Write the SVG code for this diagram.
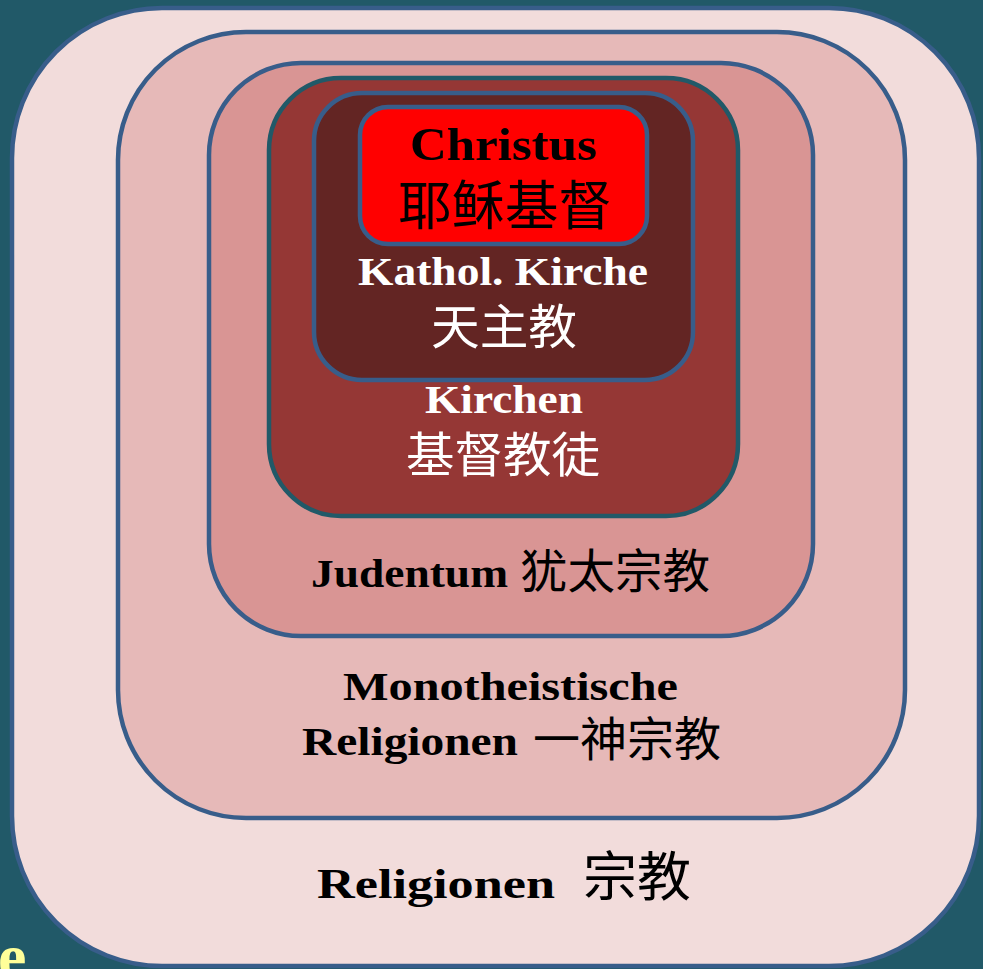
<svg xmlns="http://www.w3.org/2000/svg" width="983" height="969" viewBox="0 0 983 969">
<style>
.lat{font-family:"Liberation Serif","Times New Roman",serif;font-weight:bold;}
.cjk{font-family:"Noto Sans CJK SC","Noto Sans CJK TC",sans-serif;font-weight:normal;}
.blk{fill:#000;}
.wht{fill:#fff;}
.bs{stroke:#385D8A;stroke-width:4.5;}
</style>
<rect x="0" y="0" width="983" height="969" fill="#215968"/>
<text x="-2" y="978" class="lat" font-size="64" fill="#FFFF99">e</text>
<g id="religionen">
<rect x="12" y="8" width="967" height="958" rx="150" ry="150" fill="#F2DCDB" class="bs"/>
<text x="317" y="898" class="lat blk" font-size="43" textLength="238" lengthAdjust="spacingAndGlyphs">Religionen</text>
<text x="583" y="896" class="cjk blk" font-size="53" textLength="108" lengthAdjust="spacingAndGlyphs">宗教</text>
</g>
<g id="monotheistische">
<rect x="118" y="32" width="787" height="786" rx="128" ry="128" fill="#E6B9B8" class="bs"/>
<text x="343" y="700" class="lat blk" font-size="40" textLength="335" lengthAdjust="spacingAndGlyphs">Monotheistische</text>
<text x="302" y="755" class="lat blk" font-size="40" textLength="216" lengthAdjust="spacingAndGlyphs">Religionen</text>
<text x="533" y="756" class="cjk blk" font-size="47" textLength="188" lengthAdjust="spacingAndGlyphs">一神宗教</text>
</g>
<g id="judentum">
<rect x="209" y="63" width="604" height="573" rx="92" ry="92" fill="#D99594" class="bs"/>
<text x="311" y="587" class="lat blk" font-size="41" textLength="197" lengthAdjust="spacingAndGlyphs">Judentum</text>
<text x="520" y="588" class="cjk blk" font-size="47" textLength="190" lengthAdjust="spacingAndGlyphs">犹太宗教</text>
</g>
<g id="kirchen">
<rect x="269" y="78" width="469" height="438" rx="72" ry="72" fill="#953735" stroke="#215968" stroke-width="4.5"/>
<text x="425" y="413" class="lat wht" font-size="40" textLength="158" lengthAdjust="spacingAndGlyphs">Kirchen</text>
<text x="406" y="472" class="cjk wht" font-size="48" textLength="194" lengthAdjust="spacingAndGlyphs">基督教徒</text>
</g>
<g id="katholisch">
<rect x="314" y="93" width="379" height="287" rx="48" ry="48" fill="#632523" class="bs"/>
<text x="358" y="285" class="lat wht" font-size="41" textLength="290" lengthAdjust="spacingAndGlyphs">Kathol. Kirche</text>
<text x="431" y="344" class="cjk wht" font-size="48" textLength="146" lengthAdjust="spacingAndGlyphs">天主教</text>
</g>
<g id="christus">
<rect x="360" y="107" width="287" height="137" rx="28" ry="28" fill="#FF0000" class="bs"/>
<text x="410" y="160" class="lat blk" font-size="47" textLength="187" lengthAdjust="spacingAndGlyphs">Christus</text>
<text x="398" y="225" class="cjk blk" font-size="53" font-weight="bold" textLength="214" lengthAdjust="spacingAndGlyphs">耶稣基督</text>
</g>
</svg>
